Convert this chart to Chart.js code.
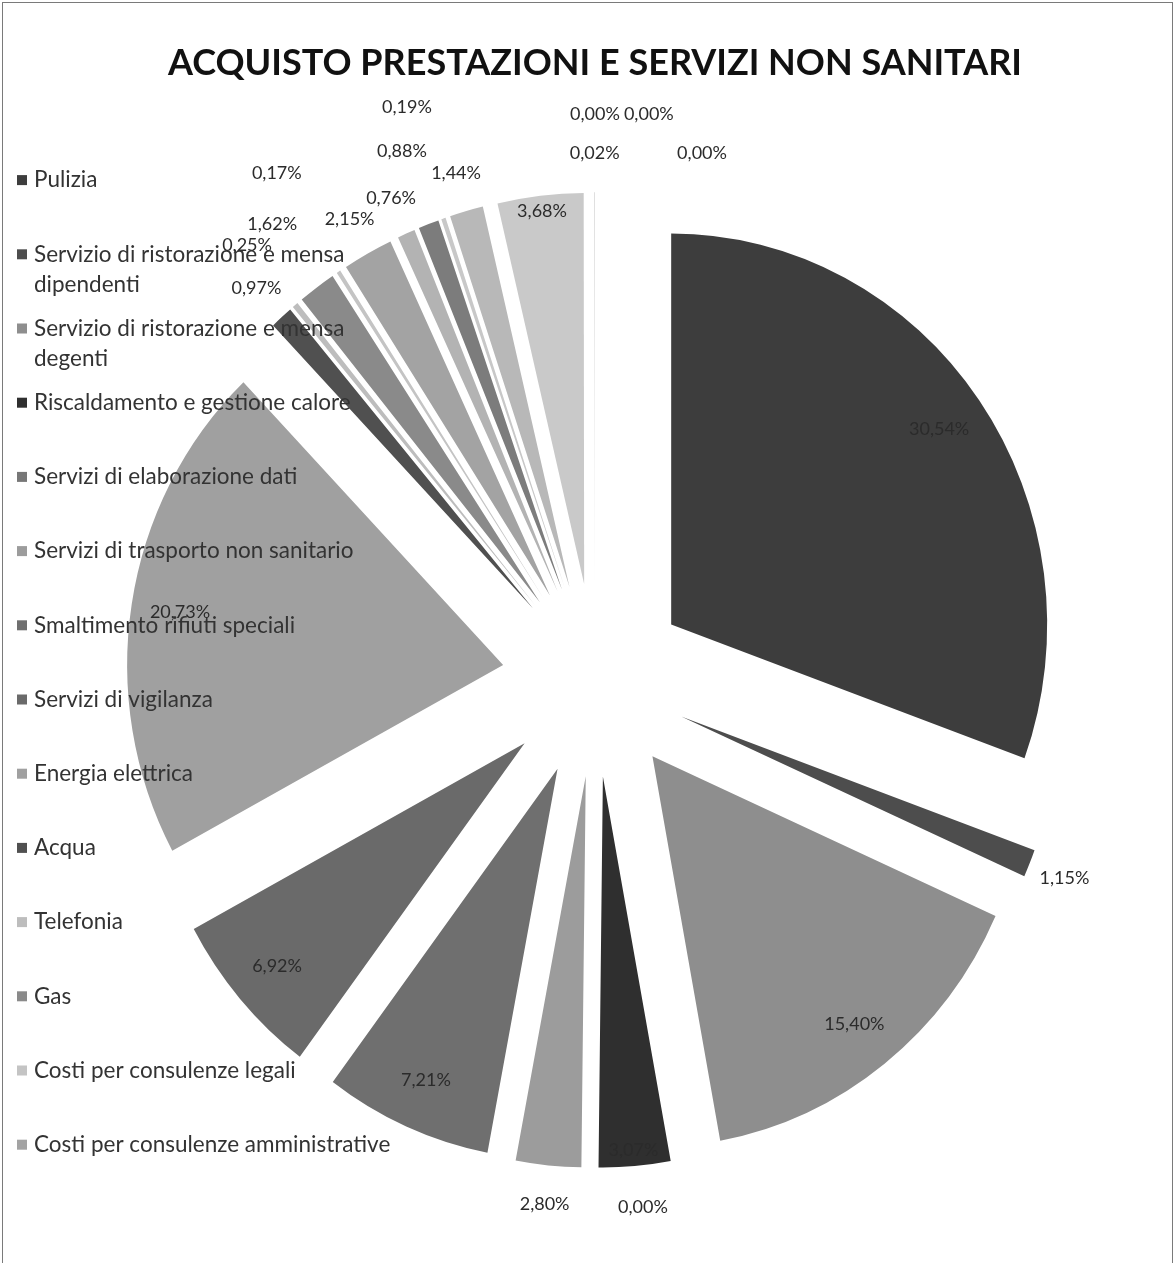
<!DOCTYPE html>
<html>
<head>
<meta charset="utf-8">
<title>Acquisto prestazioni e servizi non sanitari</title>
<script src="https://cdn.jsdelivr.net/npm/chart.js@4.4.1/dist/chart.umd.min.js"></script>
<style>
  html, body { margin: 0; padding: 0; background: #fff; }
  #wrap { position: relative; width: 1175px; height: 1263px; overflow: hidden; }
  #frame { position: absolute; left: 2px; top: 2px; width: 1169px; height: 1280px; border: 1px solid #7a7a7a; pointer-events: none; }
  canvas { display: block; }
</style>
</head>
<body>
<div id="wrap">
  <canvas id="myChart" width="1175" height="1263"></canvas>
  <div id="frame"></div>
</div>
<script>
// categories in the order Excel draws them (clockwise from 12 o'clock)
// the original legend only shows the first 14 names, the rest are not readable
const categories = [
    'Pulizia',
    'Servizio di ristorazione e mensa dipendenti',
    'Servizio di ristorazione e mensa degenti',
    'Riscaldamento e gestione calore',
    'Servizi di elaborazione dati',
    'Servizi di trasporto non sanitario',
    'Smaltimento rifiuti speciali',
    'Servizi di vigilanza',
    'Energia elettrica',
    'Acqua',
    'Telefonia',
    'Gas',
    'Costi per consulenze legali',
    'Costi per consulenze amministrative',
    'Voce 15', 'Voce 16', 'Voce 17', 'Voce 18', 'Voce 19',
    'Voce 20', 'Voce 21', 'Voce 22', 'Voce 23'
];

// share of the total, percent
const shares = [
    30.54, 1.15, 15.40, 3.07, 0.00, 2.80, 7.21, 6.92, 20.73,
    0.97, 0.25, 1.62, 0.17, 2.15,
    0.76, 0.88, 0.19, 1.44, 3.68, 0.00, 0.02, 0.00, 0.00
];

const chartTitle = 'ACQUISTO PRESTAZIONI E SERVIZI NON SANITARI';
const legendCount = 14;

// grey fills, one per slice
const sliceColors = [
    '#3d3d3d', '#4d4d4d', '#8e8e8e', '#2f2f2f', '#777777', '#9c9c9c', '#6f6f6f', '#6a6a6a', '#a0a0a0',
    '#505050', '#bdbdbd', '#8a8a8a', '#c4c4c4', '#a3a3a3',
    '#b3b3b3', '#7c7c7c', '#c8c8c8', '#b8b8b8', '#c9c9c9', '#bbbbbb', '#bbbbbb', '#bbbbbb', '#bbbbbb'
];

const EXPLODE = 93;
const STRETCH_Y = 1.04;   // the printed pie is a little taller than wide

// every slice pulled out of the centre by the same distance, like Excel's exploded pie
const arcDraw = Chart.ArcElement.prototype.draw;
Chart.ArcElement.prototype.draw = function (ctx) {
    const mid = (this.startAngle + this.endAngle) / 2;
    ctx.save();
    ctx.translate(this.x, this.y);
    ctx.scale(1, STRETCH_Y);
    ctx.translate(-this.x, -this.y);
    ctx.translate(Math.cos(mid) * EXPLODE, Math.sin(mid) * EXPLODE);
    arcDraw.call(this, ctx);
    ctx.restore();
};

function fmt(v) {
    return v.toFixed(2).replace('.', ',') + '%';
}

const pctLabels = {
    id: 'pctLabels',
    afterDatasetsDraw(chart) {
        const ctx = chart.ctx;
        const arcs = chart.getDatasetMeta(0).data;
        const placed = [];
        const pos = [];
        ctx.save();
        ctx.font = '18px Lato';
        ctx.fillStyle = '#2b2b2b';
        ctx.textAlign = 'center';
        ctx.textBaseline = 'middle';
        const h = 20;

        // point at k * radius along the slice's middle, in screen space
        function at(i, k) {
            const arc = arcs[i];
            const mid = (arc.startAngle + arc.endAngle) / 2;
            const d = EXPLODE + arc.outerRadius * k;
            return { x: arc.x + Math.cos(mid) * d, y: arc.y + Math.sin(mid) * d * STRETCH_Y };
        }
        function free(p, w) {
            return !placed.some(function (q) {
                return Math.abs(p.x - q.x) < w && Math.abs(p.y - q.y) < h;
            });
        }
        function put(i, sideFirst) {
            const w = ctx.measureText(fmt(shares[i])).width + 4;
            const rings = [1.1, 1.2, 1.3];
            const cands = [];
            for (let a = 0; a < 3; a++) {
                for (let b = 0; b < 3; b++) {
                    const ring = sideFirst ? a : b;
                    const shift = sideFirst ? b : a;
                    const p = at(i, rings[ring]);
                    cands.push({ x: p.x + shift * w, y: p.y });
                }
            }
            const p = cands.find(function (c) { return free(c, w); }) || cands[0];
            placed.push(p);
            pos[i] = p;
        }

        // big slices: label inside
        shares.forEach(function (v, i) {
            if (v >= 3) {
                pos[i] = at(i, v > 6 ? 0.87 : 0.96);
                placed.push(pos[i]);
            }
        });
        // small slices outside, staggered; empty slices are pushed sideways last
        shares.forEach(function (v, i) { if (v < 3 && v > 0) put(i, false); });
        shares.forEach(function (v, i) { if (v === 0) put(i, true); });

        pos.forEach(function (p, i) { ctx.fillText(fmt(shares[i]), p.x, p.y); });
        ctx.restore();
    }
};

function wrapText(ctx, text, maxW) {
    const words = text.split(' ');
    const lines = [];
    let line = '';
    words.forEach(function (wd) {
        const test = line ? line + ' ' + wd : wd;
        if (line && ctx.measureText(test).width > maxW) {
            lines.push(line);
            line = wd;
        } else {
            line = test;
        }
    });
    lines.push(line);
    return lines;
}

// Excel legend on the left, drawn over the pie
const sideLegend = {
    id: 'sideLegend',
    afterDraw(chart) {
        const ctx = chart.ctx;
        ctx.save();
        ctx.font = '22.5px Lato';
        ctx.textBaseline = 'middle';
        const top = 143, slot = 74.2, maxW = 372;
        for (let i = 0; i < legendCount; i++) {
            const y = top + slot * (i + 0.5);
            ctx.fillStyle = sliceColors[i];
            ctx.fillRect(17, y - 5, 10, 10);
            ctx.fillStyle = '#333';
            wrapText(ctx, categories[i], maxW).forEach(function (line, j) {
                ctx.fillText(line, 34, y + j * 30);
            });
        }
        ctx.restore();
    }
};

const ctx = document.getElementById('myChart').getContext('2d');

new Chart(ctx, {
    type: 'pie',
    data: {
        labels: categories,
        datasets: [
            {
                data: shares,
                backgroundColor: sliceColors,
                borderWidth: 0,
                hoverOffset: 0,
                radius: 376
            }
        ]
    },
    options: {
        responsive: false,
        animation: false,
        layout: {
            padding: { top: 27, left: 100, right: 85, bottom: 53 }
        },
        plugins: {
            legend: { display: false },
            tooltip: { enabled: false },
            title: {
                display: true,
                text: chartTitle,
                color: '#111',
                font: { family: 'Lato', size: 36, weight: 'bold' },
                padding: { top: 15, bottom: 65 }
            }
        }
    },
    plugins: [pctLabels, sideLegend]
});
</script>
</body>
</html>
